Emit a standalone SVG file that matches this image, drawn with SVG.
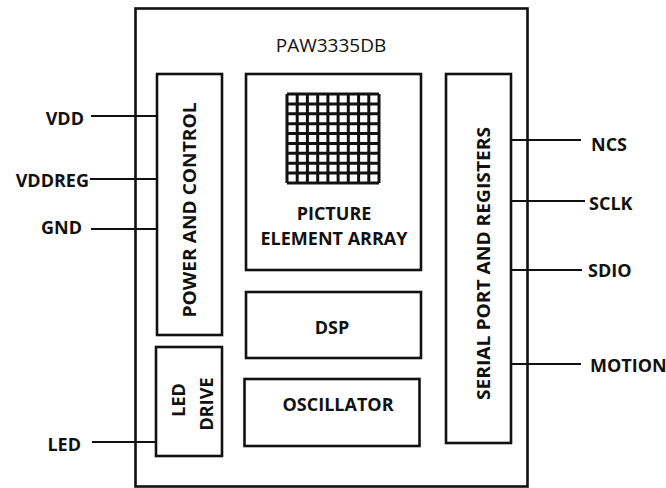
<svg xmlns="http://www.w3.org/2000/svg" width="666" height="488" viewBox="0 0 666 488">
<style>
.box{fill:#fff;stroke:#111;stroke-width:2.6}
.wire{fill:none;stroke:#111;stroke-width:2}
.lbl{font-family:"Open Sans","Liberation Sans",sans-serif;font-weight:bold;font-size:18px;fill:#111}
.title{font-family:"Open Sans","Liberation Sans",sans-serif;font-size:19px;fill:#111}
.grid{fill:none;stroke:#111;stroke-width:3}
</style>
<rect x="0" y="0" width="666" height="488" fill="#fff"/>
<g id="chip">
<rect class="box" x="135.5" y="8.5" width="392" height="478"/>
<text class="title" x="331" y="52" text-anchor="middle">PAW3335DB</text>
</g>
<g id="power">
<rect class="box" x="157" y="74" width="65" height="261"/>
<text class="lbl" font-size="19" transform="translate(196,210) rotate(-90)" text-anchor="middle" textLength="215" lengthAdjust="spacingAndGlyphs">POWER AND CONTROL</text>
</g>
<g id="led-drive">
<rect class="box" x="156" y="347" width="66" height="109"/>
<text class="lbl" transform="translate(185,400) rotate(-90)" text-anchor="middle">LED</text>
<text class="lbl" transform="translate(213,404) rotate(-90)" text-anchor="middle">DRIVE</text>
</g>
<g id="pixel-array">
<rect class="box" x="246" y="74" width="175" height="196"/>
<path class="grid" d="M287,94H379M287,103.9H379M287,113.8H379M287,123.7H379M287,133.6H379M287,143.4H379M287,153.3H379M287,163.2H379M287,173.1H379M287,183H379M287,94V183M297.2,94V183M307.4,94V183M317.7,94V183M327.9,94V183M338.1,94V183M348.3,94V183M358.6,94V183M368.8,94V183M379,94V183"/>
<text class="lbl" x="334" y="220" text-anchor="middle">PICTURE</text>
<text class="lbl" x="334" y="245" text-anchor="middle">ELEMENT ARRAY</text>
</g>
<g id="dsp">
<rect class="box" x="246" y="292" width="175" height="66"/>
<text class="lbl" x="332" y="334" text-anchor="middle">DSP</text>
</g>
<g id="oscillator">
<rect class="box" x="244.5" y="379" width="175" height="67"/>
<text class="lbl" x="338" y="411" text-anchor="middle">OSCILLATOR</text>
</g>
<g id="serial">
<rect class="box" x="446" y="74" width="65" height="369"/>
<text class="lbl" font-size="19" transform="translate(490,263.5) rotate(-90)" text-anchor="middle" textLength="273" lengthAdjust="spacingAndGlyphs">SERIAL PORT AND REGISTERS</text>
</g>
<g id="connectors">
<path class="wire" d="M91,116H157M90,179H157M91,229H157M92,442H156M511,140H581M511,201H585M511,270H582M511,364H581"/>
</g>
<g id="pins">
<text class="lbl" x="84" y="125" text-anchor="end">VDD</text>
<text class="lbl" x="89" y="186.5" text-anchor="end">VDDREG</text>
<text class="lbl" x="82" y="234" text-anchor="end">GND</text>
<text class="lbl" x="81" y="450.5" text-anchor="end">LED</text>
<text class="lbl" x="591" y="150.5">NCS</text>
<text class="lbl" x="589" y="210">SCLK</text>
<text class="lbl" x="588" y="277">SDIO</text>
<text class="lbl" x="590" y="372" font-weight="600">MOTION</text>
</g>
</svg>
